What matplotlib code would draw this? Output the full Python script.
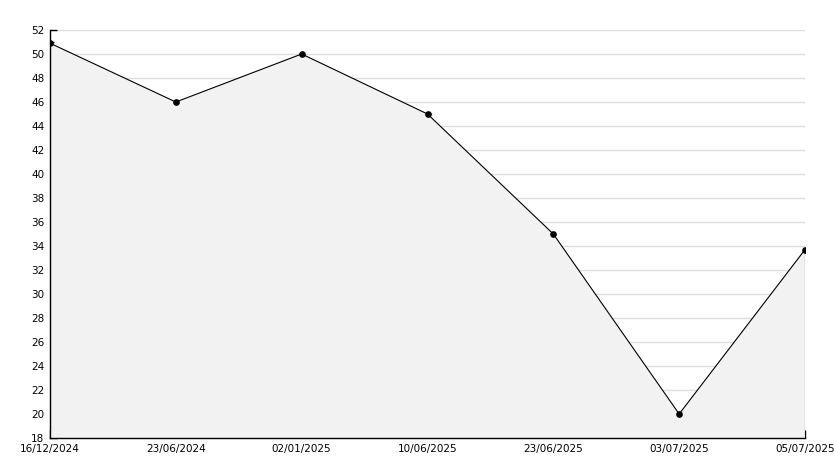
import matplotlib
matplotlib.use("Agg")
import matplotlib.pyplot as plt
from matplotlib.ticker import MultipleLocator

dates = ["16/12/2024", "23/06/2024", "02/01/2025", "10/06/2025", "23/06/2025", "03/07/2025", "05/07/2025"]
values = [50.9, 46, 50, 45, 35, 20, 33.7]
y_min, y_max = 18, 52

fig = plt.figure(figsize=(8.34, 4.68), dpi=100)
ax = fig.add_axes([50/834, 30/468, 755/834, 408/468])
x = list(range(len(dates)))

ax.set_xlim(x[0], x[-1])
ax.set_ylim(y_min, y_max)
ax.yaxis.set_major_locator(MultipleLocator(2))
ax.yaxis.set_minor_locator(MultipleLocator(1))

grid_levels = [v for v in ax.get_yticks() if y_min < v <= y_max]
ax.hlines(grid_levels, x[0], x[-1], colors="#dddddd", linewidth=1, zorder=1)

ax.fill_between(x, values, y_min, facecolor="#f2f2f2", edgecolor="none", zorder=3, linewidth=0)
ax.plot(x, values, color="black", linewidth=0.8, marker="o", markersize=3.8, zorder=4)
ax.vlines(x[-1], y_min, values[-1], color="black", linewidth=0.8, zorder=4)

ax.set_xlim(x[0], x[-1])
ax.set_ylim(y_min, y_max)
ax.set_xticks(x)
ax.set_xticklabels(dates)

for s in ["top", "right"]:
    ax.spines[s].set_visible(False)
for s in ["left", "bottom"]:
    ax.spines[s].set_linewidth(1)
    ax.spines[s].set_zorder(5)

ax.tick_params(axis="y", which="major", direction="in", length=5, width=1, labelsize=7.5, pad=4)
ax.tick_params(axis="y", which="minor", direction="in", length=3, width=1)
ax.tick_params(axis="x", which="major", direction="in", length=6, width=1, labelsize=7.5, pad=4)

fig.savefig("out.png", dpi=100)
